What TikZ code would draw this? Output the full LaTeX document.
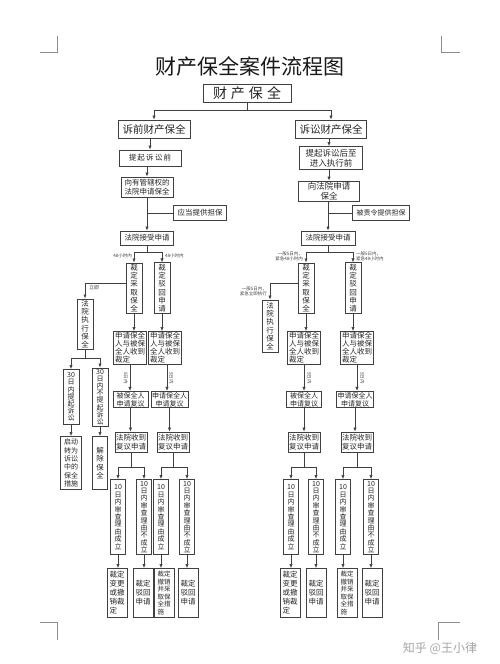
\documentclass[tikz,border=0pt]{standalone}
\usepackage{fontspec}
\setmainfont{Noto Sans CJK SC}
\usetikzlibrary{arrows.meta}
\newcommand\fs[2]{\fontsize{#1}{#2}\selectfont}
\begin{document}
\begin{tikzpicture}[x=1pt,y=-1pt,
  box/.style={draw=black!75,line width=0.75pt,inner sep=1pt,align=center,text=black!85,font=\fs{7.5}{8.5}},
  vbox/.style={box,minimum width=16pt,minimum height=50pt,font=\fs{7.5}{8.3}},
  abox/.style={box,minimum width=33pt,minimum height=32pt,align=left,font=\fs{7.5}{8}},
  bbox/.style={box,minimum width=35pt,minimum height=16pt,font=\fs{7}{7.8}},
  cbox/.style={box,minimum width=32pt,minimum height=20pt,font=\fs{7.5}{8.5}},
  dbox/.style={box,minimum width=15pt,minimum height=75pt,font=\fs{7}{7.4}},
  ebox/.style={box,minimum width=20pt,minimum height=49pt,align=left,font=\fs{7.5}{9}},
  ln/.style={draw=black!75,line width=0.6pt},
  arr/.style={ln,-{Latex[length=4pt,width=3.2pt]}},
  lab/.style={font=\fs{4.5}{5},inner sep=0pt,text=black!75},
  cmark/.style={draw=black!45,line width=0.5pt}]
\useasboundingbox[fill=white] (0,0) rectangle (500,664);
% corner marks
\draw[cmark] (40,52) -- (57,52) -- (57,36);
\draw[cmark] (460,52) -- (441,52) -- (441,36);
\draw[cmark] (40,622) -- (57,622) -- (57,640);
\draw[cmark] (460,622) -- (438,622) -- (438,640);
% title
\node[font=\fs{21}{23},text=black!90] (T) at (250,66) {财产保全案件流程图};
\node[box,line width=1pt,minimum width=88pt,minimum height=18pt,font=\fs{14}{16}] (N0) at (247,93) {财\hspace{4pt}产\hspace{4pt}保\hspace{4pt}全};
\node[box,minimum width=72pt,minimum height=18pt,font=\fs{10.5}{12}] (L1) at (154,129) {诉前财产保全};
\node[box,minimum width=71pt,minimum height=18pt,font=\fs{10.5}{12}] (R1) at (331,129) {诉讼财产保全};
% left column
\node[box,minimum width=62pt,minimum height=16pt,font=\fs{7.5}{8.5}] (L2) at (150,158) {提\,起\,诉\,讼\,前};
\node[box,minimum width=52pt,minimum height=20pt] (L3) at (147,187) {向有管辖权的\\法院申请保全};
\node[box,minimum width=53pt,minimum height=15pt] (L4) at (200,213) {应当提供担保};
\node[box,minimum width=53pt,minimum height=14pt] (L5) at (147,238) {法院接受申请};
\node[vbox] (LK1) at (134,288) {裁\\定\\采\\取\\保\\全};
\node[vbox] (LK2) at (162,288) {裁\\定\\驳\\回\\申\\请};
\node[vbox,minimum height=47pt] (LX) at (85,324) {法\\院\\执\\行\\保\\全};
\node[vbox,minimum height=55pt,font=\fs{7}{7.2}] (L30a) at (71,397) {30\\日\\内\\提\\起\\诉\\讼};
\node[vbox,minimum height=55pt,font=\fs{7}{7.2}] (L30b) at (100,397) {30\\日\\内\\不\\提\\起\\诉\\讼};
\node[box,minimum width=21pt,minimum height=53pt,align=left,font=\fs{7}{8.3}] (LQ) at (71,463) {启动\\转为\\诉讼\\中的\\保全\\措施};
\node[vbox,minimum width=15pt,minimum height=53pt] (LJ) at (100,463) {解\\除\\保\\全};
\node[abox] (A1) at (130,348) {申请保全\\人与被保\\全人收到\\裁定};
\node[abox] (A2) at (165,348) {申请保全\\人与被保\\全人收到\\裁定};
\node[bbox] (B1) at (130.5,399.5) {被保全人\\申请复议};
\node[bbox,minimum width=37pt] (B2) at (169.5,399.5) {申请保全人\\申请复议};
\node[cbox] (C1) at (131,442) {法院收到\\复议申请};
\node[cbox] (C2) at (173,442) {法院收到\\复议申请};
\node[dbox] (D1) at (118,517) {10\\日\\内\\审\\查\\理\\由\\成\\立};
\node[dbox] (D2) at (144,517) {10\\日\\内\\审\\查\\理\\由\\不\\成\\立};
\node[dbox] (D3) at (161,517) {10\\日\\内\\审\\查\\理\\由\\成\\立};
\node[dbox] (D4) at (187,517) {10\\日\\内\\审\\查\\理\\由\\不\\成\\立};
\node[ebox] (E1) at (117,593) {裁定\\变更\\或撤\\销裁\\定};
\node[ebox] (E2) at (143,593) {裁定\\驳回\\申请};
\node[ebox,font=\fs{6.5}{7.6}] (E3) at (164,593) {裁定\\撤销\\并采\\取保\\全措\\施};
\node[ebox] (E4) at (188,593) {裁定\\驳回\\申请};
% right column
\node[box,minimum width=63pt,minimum height=23pt,font=\fs{8.5}{10}] (R2) at (331,158) {提起诉讼后至\\进入执行前};
\node[box,minimum width=61pt,minimum height=20pt,font=\fs{8.5}{10}] (R3) at (329,191) {向法院申请\\保全};
\node[box,minimum width=57pt,minimum height=15pt,font=\fs{7}{8}] (R4) at (381,213) {被责令提供担保};
\node[box,minimum width=54pt,minimum height=14pt] (R5) at (328,238) {法院接受申请};
\node[vbox] (RK1) at (306,288) {裁\\定\\采\\取\\保\\全};
\node[vbox] (RK2) at (353,288) {裁\\定\\驳\\回\\申\\请};
\node[vbox,minimum height=52pt] (RX) at (270,326) {法\\院\\执\\行\\保\\全};
\node[abox] (A3) at (304,348) {申请保全\\人与被保\\全人收到\\裁定};
\node[abox] (A4) at (357,348) {申请保全\\人与被保\\全人收到\\裁定};
\node[bbox] (B3) at (304,399.5) {被保全人\\申请复议};
\node[bbox,minimum width=37pt] (B4) at (355,399.5) {申请保全人\\申请复议};
\node[cbox] (C3) at (304,442) {法院收到\\复议申请};
\node[cbox] (C4) at (357,442) {法院收到\\复议申请};
\node[dbox] (D5) at (291,517) {10\\日\\内\\审\\查\\理\\由\\成\\立};
\node[dbox] (D6) at (316,517) {10\\日\\内\\审\\查\\理\\由\\不\\成\\立};
\node[dbox] (D7) at (343,517) {10\\日\\内\\审\\查\\理\\由\\成\\立};
\node[dbox] (D8) at (371,517) {10\\日\\内\\审\\查\\理\\由\\不\\成\\立};
\node[ebox] (E5) at (290,593) {裁定\\变更\\或撤\\销裁\\定};
\node[ebox] (E6) at (316,593) {裁定\\驳回\\申请};
\node[ebox,font=\fs{6.5}{7.6}] (E7) at (347,593) {裁定\\撤销\\并采\\取保\\全措\\施};
\node[ebox] (E8) at (372,593) {裁定\\驳回\\申请};
% connectors top
\draw[arr] (N0.south) -- ++(0,8) -| (L1.north);
\draw[arr] (N0.south) -- ++(0,8) -| (R1.north);
% left connectors
\draw[arr] (L2.north |- L1.south) -- (L2.north);
\draw[arr] (L3.north |- L2.south) -- (L3.north);
\draw[arr] (L3.south) -- (L5.north);
\draw[ln] (L4.west) -- (L4.west -| L3.south);
\draw[arr] (L5.south) -- ++(0,7) -| (LK1.north);
\draw[arr] (L5.south) -- ++(0,7) -| (LK2.north);
\node[lab,anchor=north east] (lb1) at (132,254) {48小时内};
\node[lab,anchor=north west] (lb2) at (165,254) {48小时内};
\draw[arr] ([yshift=5pt]LK1.west) -| (LX.north);
\node[lab,anchor=north west,font=\fs{5}{6}] (lb3) at (89,285) {立即};
\draw[arr] (LX.south) -- ++(0,9) -| (L30a.north);
\draw[arr] (LX.south) -- ++(0,9) -| (L30b.north);
\draw[arr] (L30a.south) -- (LQ.north);
\draw[arr] (L30b.south) -- (LJ.north);
\draw[arr] (LK1.south) -- (LK1.south |- A1.north);
\draw[arr] (LK2.south) -- (LK2.south |- A2.north);
\draw[arr] (A1.south) -- (A1.south |- B1.north);
\draw[arr] ([xshift=2pt]A2.south) -- ([xshift=2pt]A2.south |- B2.north);
\node[lab,rotate=-90,anchor=north] (lb4) at (128,378) {5日内};
\node[lab,rotate=-90,anchor=south] (lb5) at (169,378) {5日内};
\draw[arr] (B1.south) -- (B1.south |- C1.north);
\draw[arr] (B2.south) -- (B2.south |- C2.north);
\draw[arr] (C1.south) -- ++(0,15) -| (D1.north);
\draw[arr] (C1.south) -- ++(0,15) -| (D2.north);
\draw[arr] (C2.south) -- ++(0,15) -| (D3.north);
\draw[arr] (C2.south) -- ++(0,15) -| (D4.north);
\draw[arr] (D1.south) -- (D1.south |- E1.north);
\draw[arr] (D2.south) -- (D2.south |- E2.north);
\draw[arr] (D3.south) -- (D3.south |- E3.north);
\draw[arr] (D4.south) -- (D4.south |- E4.north);
% right connectors
\draw[arr] (R3.north |- R1.south) -- (R3.north |- R2.north);
\draw[arr] (R3.north |- R2.south) -- (R3.north);
\draw[arr] (R5.north |- R3.south) -- (R5.north);
\draw[ln] (R4.west) -- (R4.west -| R5.north);
\draw[arr] (R5.south) -- ++(0,7) -| (RK1.north);
\draw[arr] (R5.south) -- ++(0,7) -| (RK2.north);
\node[lab,anchor=north east,align=right] (lb6) at (303,252) {一般5日内，\\紧急48小时内};
\node[lab,anchor=north west,align=left] (lb7) at (356,252) {一般5日内，\\紧急48小时内};
\draw[arr] ([yshift=5pt]RK1.west) -| (RX.north);
\node[lab,anchor=north east,align=right] (lb8) at (267,287) {一般5日内，\\紧急立即执行};
\draw[arr] (RK1.south) -- (RK1.south |- A3.north);
\draw[arr] (RK2.south) -- (RK2.south |- A4.north);
\draw[arr] (A3.south) -- (A3.south |- B3.north);
\draw[arr] (A4.south) -- (A4.south |- B4.north);
\node[lab,rotate=-90,anchor=south] (lb9) at (307,378) {5日内};
\node[lab,rotate=-90,anchor=south] (lb10) at (360,378) {5日内};
\draw[arr] (B3.south) -- (B3.south |- C3.north);
\draw[arr] (B4.south) -- (B4.south |- C4.north);
\draw[arr] (C3.south) -- ++(0,15) -| (D5.north);
\draw[arr] (C3.south) -- ++(0,15) -| (D6.north);
\draw[arr] (C4.south) -- ++(0,15) -| (D7.north);
\draw[arr] (C4.south) -- ++(0,15) -| (D8.north);
\draw[arr] (D5.south) -- (D5.south |- E5.north);
\draw[arr] (D6.south) -- (D6.south |- E6.north);
\draw[arr] (D7.south) -- (D7.south |- E7.north);
\draw[arr] (D8.south) -- (D8.south |- E8.north);
% watermark
\node[font=\fs{12}{14},text=black!35] (W) at (440,648) {知乎 @王小律};
\end{tikzpicture}
\end{document}
